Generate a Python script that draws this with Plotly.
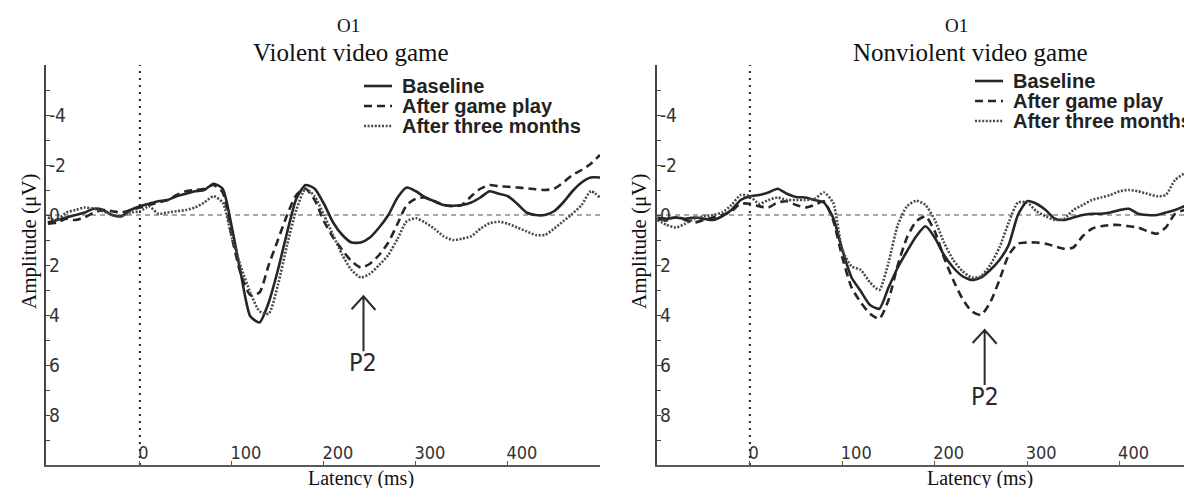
import plotly.graph_objects as go

# ---------------- data ----------------
latency_left = list(range(-100, 501, 10))
latency_right = list(range(-100, 491, 10))

left_baseline = [0.3, 0.2, 0.1, 0.0, -0.1, -0.25, -0.2, 0.0, 0.05, -0.2,
                 -0.35, -0.45, -0.55, -0.6, -0.75, -0.85, -0.95, -1.0, -1.25, -1.05,
                 0.5, 2.4, 4.05, 4.3, 3.5, 2.2, 0.7, -0.65, -1.2, -1.05,
                 -0.45, 0.3, 0.8, 1.1, 1.1, 0.9, 0.5, 0.0, -0.7, -1.1,
                 -0.95, -0.7, -0.55, -0.4, -0.37, -0.4, -0.5, -0.7, -0.95, -0.85,
                 -0.75, -0.45, -0.1, 0.0, 0.0, -0.15, -0.5, -0.95, -1.3, -1.5,
                 -1.5]
left_game = [0.35, 0.3, 0.15, 0.2, 0.1, -0.1, -0.2, -0.15, -0.1, -0.2,
             -0.3, -0.4, -0.5, -0.6, -0.8, -0.95, -1.0, -1.05, -1.2, -0.9,
             0.9, 2.4, 3.2, 3.1, 2.0, 1.0, 0.0, -0.8, -1.05, -0.6,
             0.25, 0.9, 1.4, 1.85, 2.1, 1.95, 1.6, 1.1, 0.35, -0.4,
             -0.65, -0.7, -0.55, -0.4, -0.35, -0.4, -0.75, -1.05, -1.2, -1.15,
             -1.13, -1.1, -1.07, -1.03, -1.0, -1.05, -1.3, -1.6, -1.8, -2.05,
             -2.4]
left_three_months = [0.1, 0.2, -0.1, -0.2, -0.3, -0.25, -0.15, 0.0, 0.05, -0.1,
                     -0.15, -0.35, -0.05, -0.1, -0.15, -0.2, -0.3, -0.5, -0.75, -0.5,
                     0.9, 2.1, 3.1, 3.85, 3.95, 2.8, 1.2, -0.2, -1.05, -0.75,
                     0.0, 0.8, 1.6, 2.2, 2.5, 2.35, 2.0, 1.6, 0.95, 0.25,
                     0.13, 0.3, 0.55, 0.85, 1.0, 0.95, 0.85, 0.55, 0.33, 0.27,
                     0.35, 0.5, 0.65, 0.8, 0.8, 0.55, 0.25, -0.05, -0.4, -0.95,
                     -0.7]

right_baseline = [0.2, 0.15, 0.1, 0.15, 0.1, 0.15, 0.2, 0.05, -0.2, -0.6,
                  -0.75, -0.8, -0.9, -1.05, -0.85, -0.72, -0.7, -0.6, -0.5, 0.1,
                  1.4, 2.5, 3.05, 3.6, 3.75, 2.9, 2.1, 1.45, 0.85, 0.45,
                  0.9, 1.6, 2.1, 2.45, 2.6, 2.5, 2.2, 1.8, 1.2, 0.0,
                  -0.55, -0.45, -0.2, 0.15, 0.2, 0.1, 0.0, -0.05, -0.05, -0.1,
                  -0.2, -0.25, -0.05, 0.0, 0.0, -0.1, -0.2, -0.35, -0.55, -0.75]
right_game = [0.1, 0.15, 0.1, 0.2, 0.3, 0.2, 0.1, 0.0, -0.15, -0.45,
              -0.45, -0.35, -0.3, -0.5, -0.55, -0.4, -0.3, -0.4, -0.55, 0.2,
              1.7, 2.9, 3.5, 3.95, 4.15, 3.4, 2.0, 0.9, 0.25, 0.05,
              0.65, 1.7, 2.6, 3.35, 3.85, 4.0, 3.5, 2.6, 1.6, 1.15,
              1.1, 1.1, 1.15, 1.25, 1.35, 1.3, 0.85, 0.55, 0.45, 0.4,
              0.4, 0.45, 0.5, 0.65, 0.75, 0.5, -0.05, -0.2, -0.3, -0.35]
right_three_months = [0.2, 0.4, 0.5, 0.35, 0.15, 0.05, 0.0, -0.1, -0.4, -0.8,
                      -0.75, -0.45, -0.6, -0.7, -0.6, -0.6, -0.6, -0.65, -0.9, -0.5,
                      1.4, 2.05, 2.2, 2.7, 3.0, 1.9, 0.4, -0.35, -0.57, -0.4,
                      0.2, 1.1, 1.8, 2.25, 2.5, 2.45, 2.0, 1.3, 0.3, -0.5,
                      -0.5, -0.15, 0.05, 0.2, 0.15, -0.2, -0.4, -0.6, -0.7, -0.8,
                      -0.95, -1.0, -0.95, -0.85, -0.75, -0.8, -1.4, -1.65, -1.7, -1.55]

series_names = ["Baseline", "After game play", "After three months"]
panel_titles = ["Violent video game", "Nonviolent video game"]
electrode = "O1"
x_tick_values = [0, 100, 200, 300, 400]
x_tick_labels = ["0", "100", "200", "300", "400"]
y_tick_values = [-6, -5, -4, -3, -2, -1, 0, 1, 2, 3, 4, 5, 6, 7, 8, 9]
y_tick_labels = ["", "", "-4", "", "-2", "", "0", "", "2", "", "4", "", "6", "", "8", ""]
p2_left = dict(x=243, tip=3.25, tail=5.45, label=5.9)
p2_right = dict(x=254, tip=4.6, tail=6.8, label=7.25)

# ---------------- styling ----------------
W, H = 1192, 488
line_styles = [
    dict(color="#262626", width=2.6, dash="solid"),
    dict(color="#262626", width=2.6, dash="8px,5px"),
    dict(color="#4a4a4a", width=2.6, dash="2px,1.6px"),
]
narrow = "Liberation Sans Narrow, DejaVu Sans Condensed, Arial Narrow, Liberation Sans, sans-serif"
serif = "Liberation Serif, Times New Roman, serif"
sans = "Liberation Sans, Arial, sans-serif"

def px(x):
    return x / W

def py(y):
    return 1 - y / H

fig = go.Figure()
panels = [
    (latency_left, [left_baseline, left_game, left_three_months], "x", "y"),
    (latency_right, [right_baseline, right_game, right_three_months], "x2", "y2"),
]
for lat, series, xa, ya in panels:
    for name, vals, st in zip(series_names, series, line_styles):
        fig.add_trace(go.Scatter(
            x=lat, y=vals, name=name, mode="lines", xaxis=xa, yaxis=ya,
            line=dict(color=st["color"], width=st["width"], dash=st["dash"],
                      shape="spline", smoothing=0.6),
            showlegend=False, hoverinfo="skip"))

x_domains = [[px(38), px(592)], [px(649), 1.0]]
x_ranges = [[-102, 500], [-100.5, 487]]
y_domain = [py(457), py(57)]

for i, (xd, xr) in enumerate(zip(x_domains, x_ranges)):
    sfx = "" if i == 0 else "2"
    fig.update_layout(**{
        "xaxis" + sfx: dict(
            domain=xd, range=xr, anchor="y" + sfx, showline=True, linecolor="#5a5a5a",
            linewidth=2, ticks="inside", ticklen=4, tickcolor="#5a5a5a",
            tickvals=x_tick_values, ticktext=x_tick_labels,
            ticklabelposition="inside right", ticklabelshift=-3,
            tickfont=dict(family=narrow, size=18, color="#333"),
            showgrid=False, zeroline=False, fixedrange=True),
        "yaxis" + sfx: dict(
            domain=y_domain, range=[10, -6], anchor="x" + sfx, showline=True,
            linecolor="#444", linewidth=1.5, ticks="inside", ticklen=4, tickcolor="#444",
            tickvals=y_tick_values, ticktext=y_tick_labels, ticklabelposition="inside",
            tickfont=dict(family=narrow, size=19, color="#333"),
            showgrid=False, zeroline=False, fixedrange=True),
    })

# reference lines: zero amplitude and stimulus onset
for sfx in ["", "2"]:
    xr_ = "x" + sfx
    yr_ = "y" + sfx
    fig.add_shape(type="line", xref=xr_ + " domain", yref=yr_, x0=0, x1=1, y0=0, y1=0,
                  line=dict(color="#8a8a8a", width=1.3, dash="5px,4px"), layer="below")
    fig.add_shape(type="line", xref=xr_, yref=yr_ + " domain", x0=0, x1=0, y0=0, y1=1,
                  line=dict(color="#222", width=2, dash="2px,5px"), layer="below")

# P2 arrows and labels
for p2, sfx in [(p2_left, ""), (p2_right, "2")]:
    xr_, yr_ = "x" + sfx, "y" + sfx
    x0, tip, tail = p2["x"], p2["tip"], p2["tail"]
    path = (f"M {x0},{tail} L {x0},{tip} M {x0-13},{tip+0.52} L {x0},{tip} "
            f"L {x0+13},{tip+0.55}")
    fig.add_shape(type="path", xref=xr_, yref=yr_, path=path,
                  line=dict(color="#2a2a2a", width=2))
    fig.add_annotation(x=x0, y=p2["label"], xref=xr_, yref=yr_, text="P2",
                       showarrow=False, xanchor="center", yanchor="middle",
                       font=dict(family=narrow, size=25, color="#2a2a2a"))

# titles
title_pos = [(340, 343), (948, 962)]
for (ox, tx), title in zip(title_pos, panel_titles):
    fig.add_annotation(x=px(ox), y=py(18), xref="paper", yref="paper", text=electrode,
                       showarrow=False, xanchor="center", yanchor="middle",
                       font=dict(family=serif, size=19, color="#111"))
    fig.add_annotation(x=px(tx), y=py(45), xref="paper", yref="paper", text=title,
                       showarrow=False, xanchor="center", yanchor="middle",
                       font=dict(family=serif, size=25, color="#111"))

# axis titles
for cx in [353, 972]:
    fig.add_annotation(x=px(cx), y=py(470), xref="paper", yref="paper", text="Latency (ms)",
                       showarrow=False, xanchor="center", yanchor="middle",
                       font=dict(family=serif, size=20, color="#111"))
for cx in [21, 631]:
    fig.add_annotation(x=px(cx), y=py(233), xref="paper", yref="paper", text="Amplitude (μV)",
                       showarrow=False, xanchor="center", yanchor="middle", textangle=-90,
                       font=dict(family=serif, size=21, color="#111"))

# legends (one per panel)
legend_pos = [(356, [78, 98, 118]), (967, [73, 93, 113])]
for lx, rows in legend_pos:
    for name, st, ry in zip(series_names, line_styles, rows):
        fig.add_shape(type="line", xref="paper", yref="paper", x0=px(lx), x1=px(lx + 28),
                      y0=py(ry), y1=py(ry),
                      line=dict(color=st["color"], width=st["width"], dash=st["dash"]))
        fig.add_annotation(x=px(lx + 36), y=py(ry), xref="paper", yref="paper", text=f"<b>{name}</b>",
                           showarrow=False, xanchor="left", yanchor="middle",
                           font=dict(family=sans, size=20, color="#222"))

fig.update_layout(width=W, height=H, margin=dict(l=0, r=0, t=0, b=0),
                  paper_bgcolor="white", plot_bgcolor="white", showlegend=False)

fig.write_html("out.html", config={"displayModeBar": False})
